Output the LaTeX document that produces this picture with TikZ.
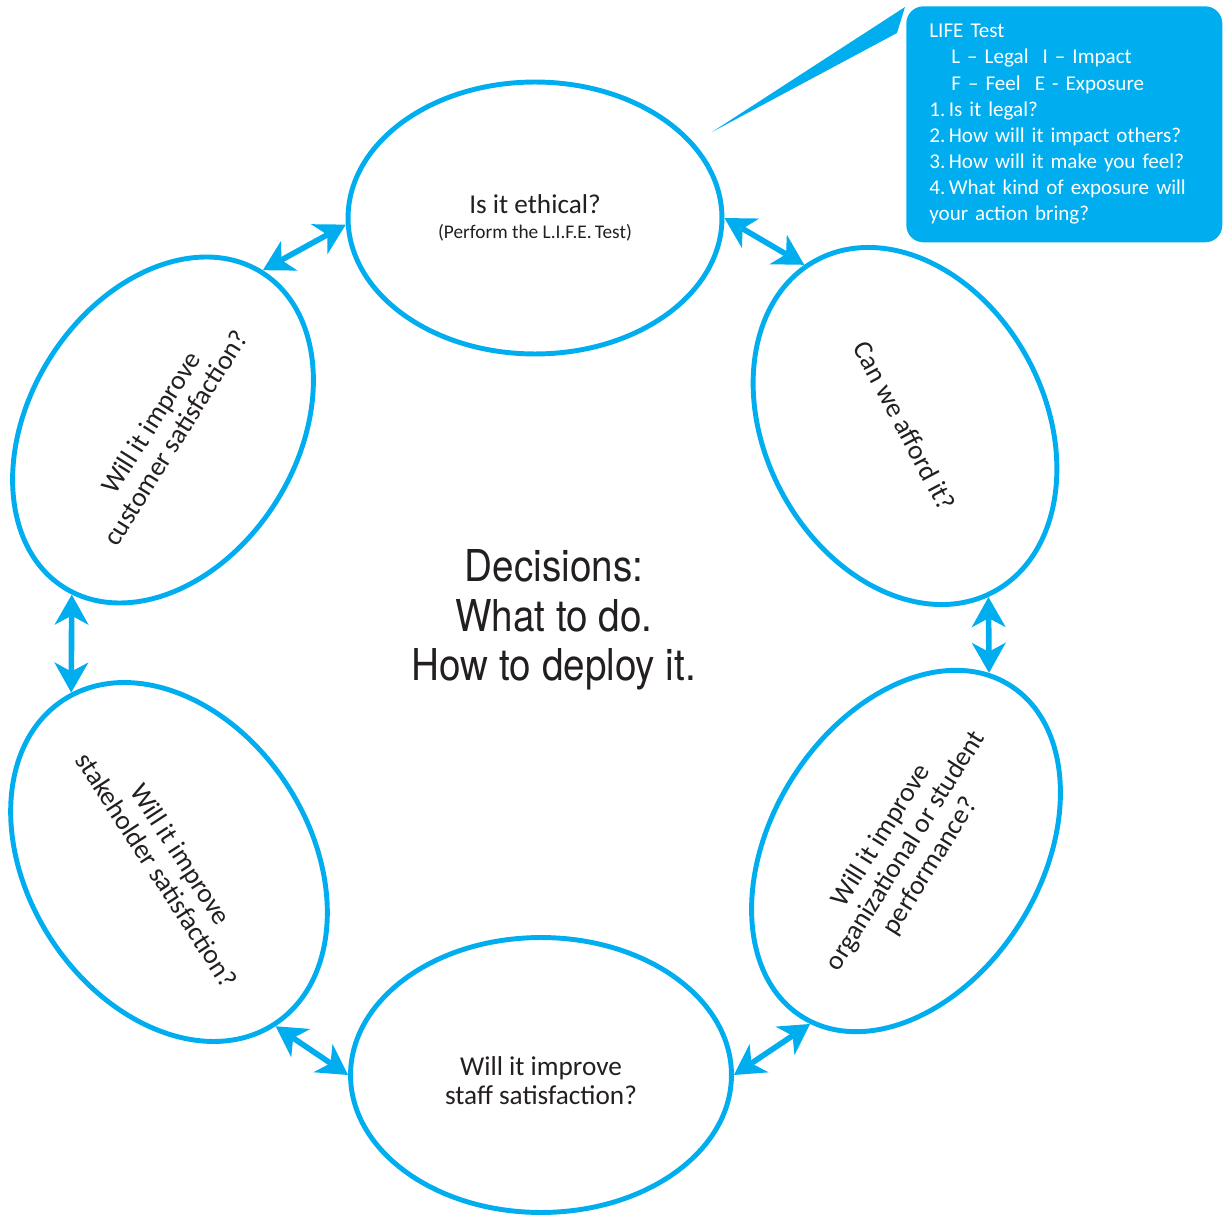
\documentclass[tikz,border=0pt]{standalone}
\usepackage{fontspec}
\setmainfont{Carlito}
\newfontfamily\narrowfont[FakeStretch=0.88]{TeX Gyre Heros}
\usetikzlibrary{arrows.meta,shapes.geometric,calc}
\definecolor{lifeblue}{HTML}{00AEEF}
\definecolor{inktext}{HTML}{231F20}
\tikzset{
    question/.style = {
        ellipse,
        draw = lifeblue,
        line width = 2.8pt,
        inner sep = 0pt,
        align = center,
        text = inktext,
        font = \fontsize{15.5}{16.4}\selectfont,
        },
    link/.style = {
        draw = lifeblue,
        line width = 3.2pt,
        >={Stealth[length=17pt,width=19pt,inset=5pt]},
        <->,
        },
    life box/.style = {
        fill = lifeblue,
        rounded corners = 0.34cm,
        text = white,
        align = left,
        font = \fontsize{12}{14.9}\selectfont,
        },
    centre text/.style = {
        align = center,
        text = inktext,
        font = \narrowfont\fontsize{25}{28.3}\selectfont,
        },
}

\begin{document}
\begin{tikzpicture}[x=0.02cm,y=-0.02cm]
    \useasboundingbox (0,0) rectangle (1225,1216);

    % the six questions around the ring
    \node[question, minimum width=7.48cm, minimum height=5.44cm] (Eth) at (535,218)
        {Is it ethical?\\[-2.5pt]{\fontsize{11}{12}\selectfont (Perform the L.I.F.E.\,Test)}};
    \node[question, minimum width=7.52cm, minimum height=5.6cm, rotate=-62] (Aff) at (905,426)
        {Can we afford it?};
    \node[question, minimum width=7.46cm, minimum height=5.4cm, rotate=58] (Perf) at (906,851)
        {Will it improve\\organizational or student\\performance?};
    \node[question, minimum width=7.62cm, minimum height=5.5cm] (Staff) at (541,1075)
        {\\[1pt]Will it improve\\staff satisfaction?};
    \node[question, minimum width=7.44cm, minimum height=5.64cm, rotate=-57] (Stake) at (169,862)
        {Will it improve\\stakeholder satisfaction?};
    \node[question, minimum width=7.44cm, minimum height=5.36cm, rotate=58] (Cust) at (163,430)
        {Will it improve\\customer satisfaction?};

    \node[centre text] (Dec) at (554,620) {Decisions:\\What to do.\\How to deploy it.};

    % two-way links between neighbours
    \path (Cust.east) edge[link] (Eth.182);
    \path (Eth.east) edge[link] (Aff.184);
    \path (Aff.358) edge[link] (Perf.7);
    \path (Perf.183) edge[link] (Staff.east);
    \path (Staff.west) edge[link] (Stake.east);
    \path (Stake.177) edge[link] (Cust.183);

    % callout with the LIFE test
    \node[life box, anchor=north west, minimum width=6.32cm, minimum height=4.72cm,
          text width=5.4cm, inner xsep=0.46cm] (Life) at (906,6)
        {LIFE Test\\
         \hspace*{0.44cm}L -- Legal\ \ I -- Impact\\
         \hspace*{0.44cm}F -- Feel\ \ E - Exposure\\
         1.\,Is it legal?\\
         2.\,How will it impact others?\\
         3.\,How will it make you feel?\\
         4.\,What kind of exposure will\\
         your action bring?};
    \coordinate (LifeTip) at (712,132);
    \fill[lifeblue] (LifeTip) -- ($(Life.north west)+(-1,1)$) -- ($(Life.north west)+(-9,27)$) -- cycle;
\end{tikzpicture}
\end{document}
